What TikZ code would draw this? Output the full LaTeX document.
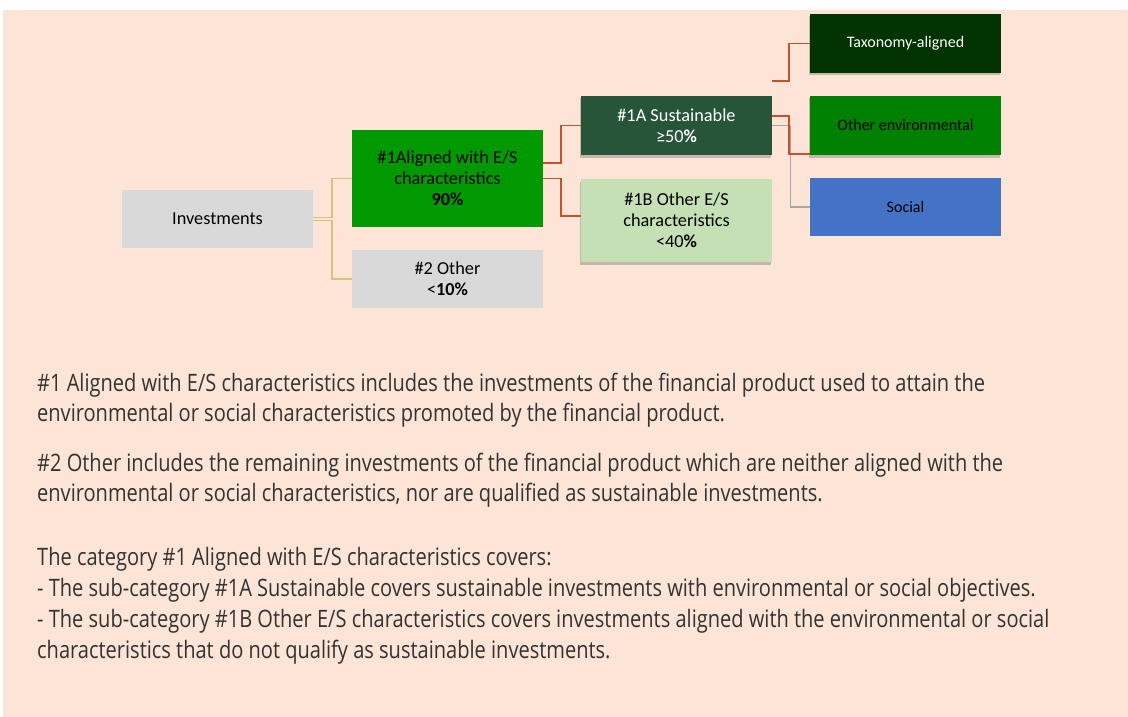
\documentclass[tikz,border=0pt]{standalone}
\usepackage{fontspec}
\setmainfont{Carlito}
\newfontfamily\bodyfont{Open Sans}[FakeStretch=0.835]
\usetikzlibrary{shadows}
\definecolor{peach}{HTML}{FCE4D6}
\definecolor{boxgray}{HTML}{D9D9D9}
\definecolor{algreen}{HTML}{009900}
\definecolor{susgreen}{HTML}{27553A}
\definecolor{lightgreen}{HTML}{C5E0B4}
\definecolor{taxgreen}{HTML}{003300}
\definecolor{envgreen}{HTML}{008000}
\definecolor{socblue}{HTML}{4472C4}
\definecolor{tanline}{HTML}{D6C27E}
\definecolor{redline}{HTML}{C8502A}
\definecolor{grayline}{HTML}{A6A6A6}
\begin{document}
\begin{tikzpicture}[x=1pt, y=-1pt,
		box/.style={minimum width=191pt, inner sep=0pt, align=center, font=\fontsize{18.3}{21}\selectfont},
		smallbox/.style={box, minimum height=59pt, font=\fontsize{16}{19}\selectfont},
		shade/.style={drop shadow={shadow xshift=-1pt, shadow yshift=-2.5pt, opacity=0.3, fill=black!70}},
		body/.style={anchor=base west, inner sep=0pt, text=black!80, font=\bodyfont\fontsize{24}{31}\selectfont}]
		% Page and background
		\useasboundingbox (0,0) rectangle (1128,717);
		\fill[white] (0,0) rectangle (1128,717);
		\fill[peach] (3,10) rectangle (1128,717);
		
		% Left part of the tree
		\node[box, fill=boxgray, minimum height=58pt] (inv) at (217.5,219) {Investments};
		\node[box, fill=algreen, minimum height=97pt] (al) at (447.5,178.5) {\#1Aligned with E/S\\characteristics\\\textbf{90\%}};
		\node[box, fill=boxgray, minimum height=58pt] (oth) at (447.5,279) {\#2 Other\\<\textbf{10\%}};
		
		% Middle column
		\node[box, shade, fill=susgreen, text=white, minimum height=59pt] (sus) at (676.5,125.5) {\#1A Sustainable\\≥50\textbf{\%}};
		\node[box, shade, fill=lightgreen, minimum height=83pt] (oes) at (676.5,220.5) {\#1B Other E/S\\characteristics\\<40\textbf{\%}};
		
		% Right column
		\node[smallbox, shade, fill=taxgreen, text=white] (tax) at (905.5,43.5) {Taxonomy-aligned};
		\node[smallbox, shade, fill=envgreen] (env) at (905.5,125.5) {Other environmental};
		\node[smallbox, fill=socblue, minimum height=58pt] (soc) at (905.5,207) {Social};
		
		% Connectors
		\draw[tanline, line width=1.6pt] ([yshift=1.5pt]inv.east) -- ++(19,0) |- (al.west);
		\draw[tanline, line width=1.6pt] ([yshift=-1.5pt]inv.east) -- ++(19,0) |- (oth.west);
		\draw[redline, line width=1.7pt] ([yshift=15.5pt]al.east) -- ++(18,0) |- (sus.west);
		\draw[redline, line width=1.7pt] (al.east) -- ++(18,0) |- ([yshift=4.5pt]oes.west);
		\draw[grayline, line width=1.4pt] (sus.east) -- ++(18,0) |- (soc.west);
		\coordinate (taxs) at (772,81);
		\draw[redline, line width=1.7pt] (taxs) -- ++(17,0) |- (tax.west);
		\draw[redline, line width=1.7pt] ([yshift=9.5pt]sus.east) -- ++(17,0) |- ([yshift=1pt]env.south west);
		
		% Explanations
		\node[body] (l1) at (37,391) {\#1 Aligned with E/S characteristics includes the investments of the financial product used to attain the};
		\node[body] (l2) at (37,421) {environmental or social characteristics promoted by the financial product.};
		\node[body] (l3) at (37,471) {\#2 Other includes the remaining investments of the financial product which are neither aligned with the};
		\node[body] (l4) at (37,501) {environmental or social characteristics, nor are qualified as sustainable investments.};
		\node[body] (l5) at (37,565) {The category \#1 Aligned with E/S characteristics covers:};
		\node[body] (l6) at (37,596) {- The sub-category \#1A Sustainable covers sustainable investments with environmental or social objectives.};
		\node[body] (l7) at (37,627) {- The sub-category \#1B Other E/S characteristics covers investments aligned with the environmental or social};
		\node[body] (l8) at (37,658) {characteristics that do not qualify as sustainable investments.};
	\end{tikzpicture}
\end{document}
